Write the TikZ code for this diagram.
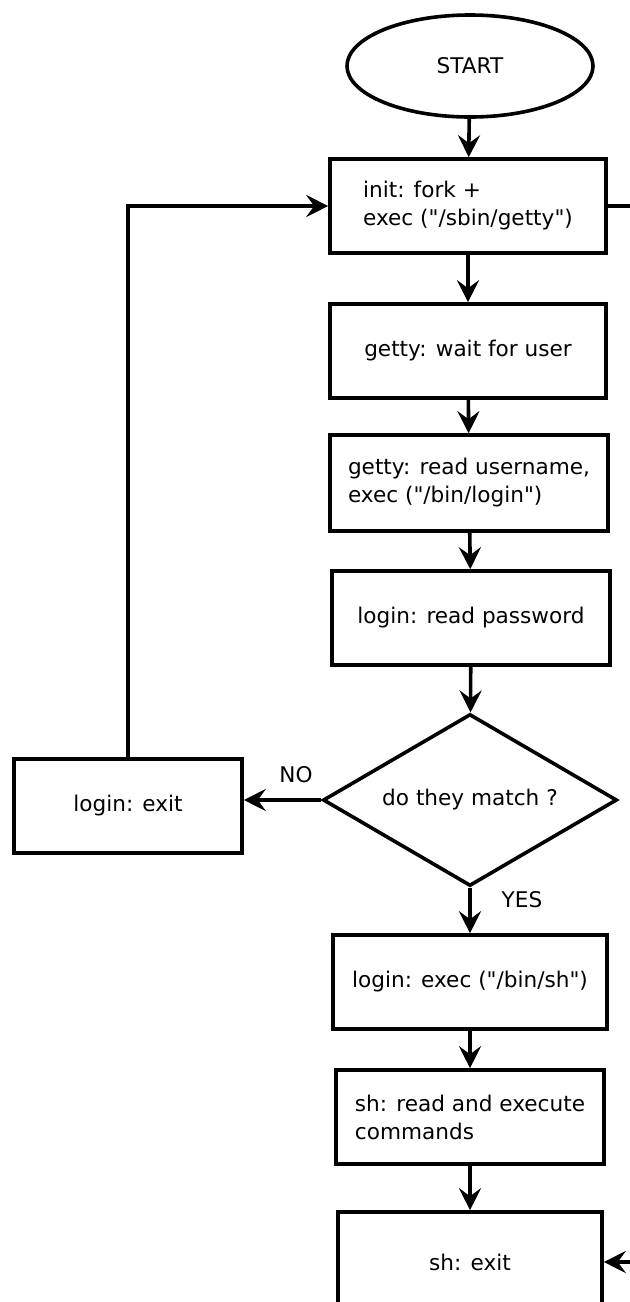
\documentclass[tikz,border=0pt]{standalone}
\usepackage{fontspec}
\setmainfont{DejaVu Sans}
\usetikzlibrary{shapes.geometric,arrows.meta}
\newcommand\qt{\textquotedbl}

\begin{document}
\begin{tikzpicture}[x=0.5pt,y=-0.5pt,
	font=\fontsize{10.8}{14}\selectfont,
	box/.style={draw,line width=1.8pt,minimum width=138pt,minimum height=47pt,align=left,inner sep=2pt},
	arr/.style={line width=1.8pt,-{Stealth[length=11pt,width=11pt,inset=4pt]}}]
	\useasboundingbox (0,0) rectangle (630,1302);
	\clip (0,0) rectangle (630,1302);
	% main column
	\node[draw,ellipse,line width=1.8pt,minimum width=123pt,minimum height=51pt] (start) at (470,66) {START};
	\node[box] (init) at (468,206) {init: fork +\\exec (\qt/sbin/getty\qt)};
	\node[box] (wait) at (468,351) {getty: wait for user};
	\node[box,minimum width=139pt,minimum height=48pt] (user) at (469,483) {getty: read username,\\exec (\qt/bin/login\qt)};
	\node[box,minimum width=139pt] (passwd) at (471,618) {login: read password};
	\node[draw,diamond,aspect=1.7,line width=1.8pt,minimum width=147pt,minimum height=86pt,inner sep=0pt] (match) at (470,800) {do they match ?};
	\node[box,minimum width=114pt] (lexit) at (128,806) {login: exit};
	\node[box,minimum width=137pt] (exsh) at (470,982) {login: exec (\qt/bin/sh\qt)};
	\node[box,minimum width=134pt] (shread) at (470,1117) {sh: read and execute\\commands};
	\node[box,minimum width=132pt,minimum height=50pt] (shexit) at (470,1262) {sh: exit};
	% loose ends at the right edge
	\coordinate (rtop) at (640,206);
	\coordinate (rbot) at (640,1262);
	% connectors
	\draw[arr] (start) -- (init);
	\draw[arr] (init) -- (wait);
	\draw[arr] (wait) -- (user);
	\draw[arr] (user) -- (passwd);
	\draw[arr] (passwd) -- (match);
	\draw[arr] (match.west) -- (match.west -| lexit.east);
	\draw[arr] (lexit.north) |- (init.west);
	\draw[arr] (match) -- (exsh);
	\draw[arr] (exsh) -- (shread);
	\draw[arr] (shread) -- (shexit);
	\draw[line width=1.8pt] (init.east) -- (rtop);
	\draw[arr] (rbot) -- (shexit.east);
	% labels
	\node (no) at (296,775) {NO};
	\node (yes) at (522,900) {YES};
\end{tikzpicture}
\end{document}
